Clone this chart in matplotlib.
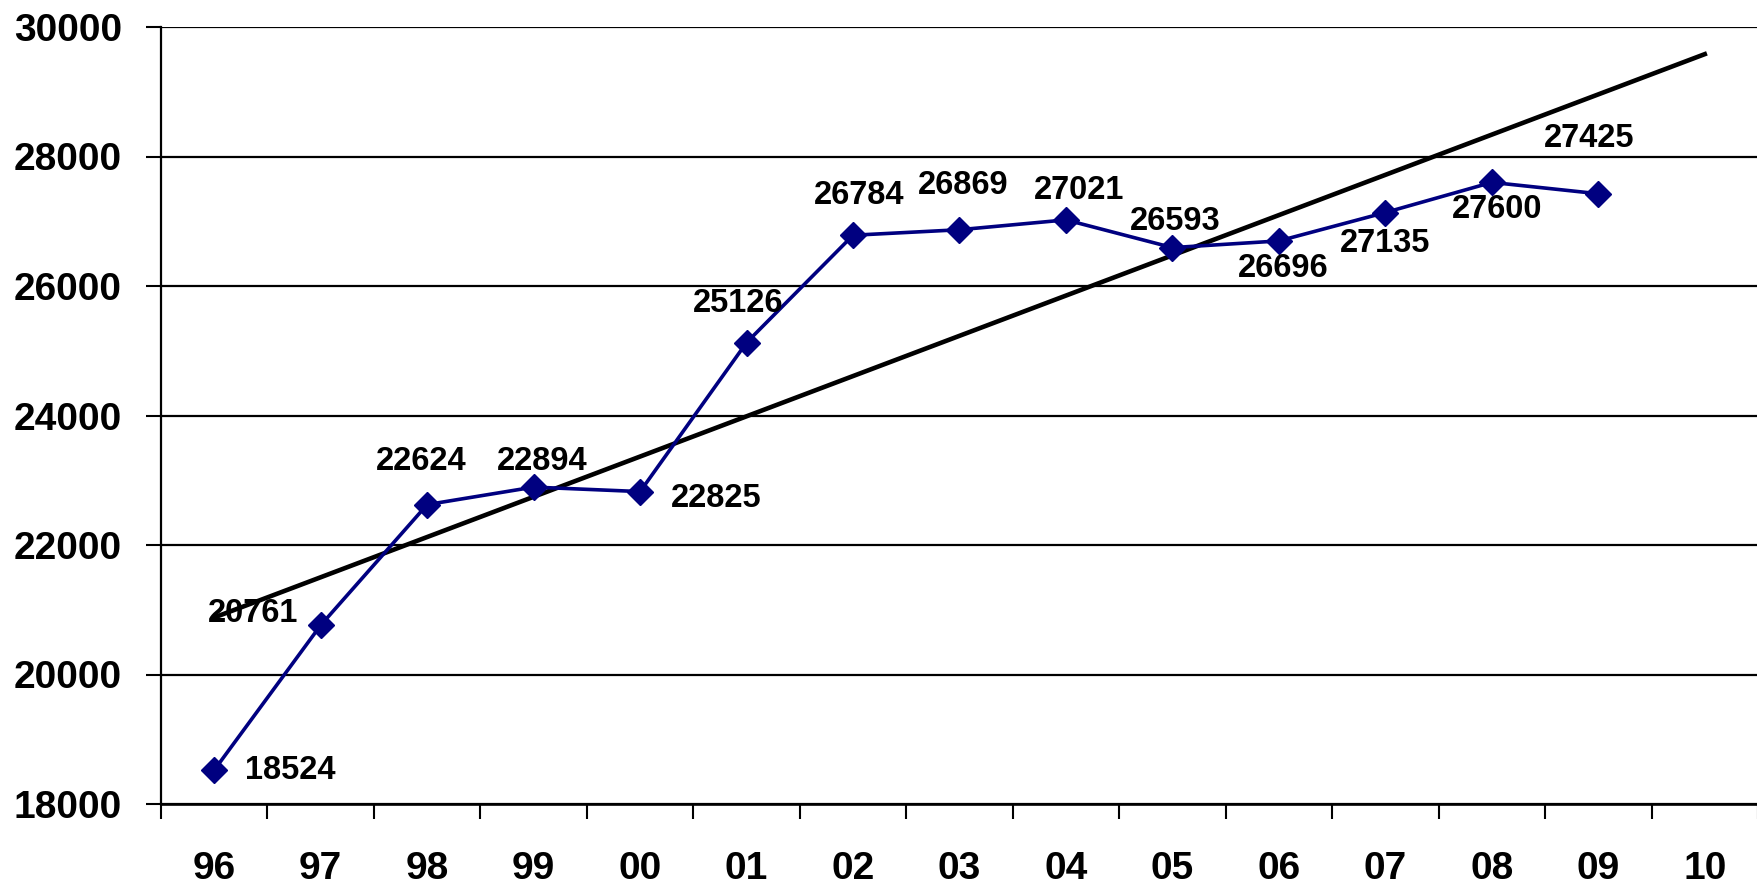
import numpy as np
import matplotlib.pyplot as plt
from matplotlib.ticker import FixedLocator

# Données
annees = ["96", "97", "98", "99", "00", "01", "02", "03", "04", "05", "06", "07", "08", "09", "10"]
valeurs = [18524, 20761, 22624, 22894, 22825, 25126, 26784, 26869, 27021,
           26593, 26696, 27135, 27600, 27425]
y_ticks = [18000, 20000, 22000, 24000, 26000, 28000, 30000]

# Décalage des étiquettes (pixels)
decalages = [(76, 0), (-68, 12), (-6, 43), (9, 26), (76, -7), (-8, 39), (6, 40),
             (4, 44), (13, 29), (3, 26), (4, -28), (0, -31), (5, -27), (-9, 55)]

plt.rcParams["font.family"] = ["Liberation Sans", "DejaVu Sans"]
plt.rcParams["font.weight"] = "bold"

fig = plt.figure(figsize=(17.58, 8.91), dpi=100)
ax = fig.add_axes([161 / 1758, 1 - 804 / 891, 1 - 161 / 1758, (804 - 27) / 891])

x = np.arange(len(valeurs))

# Courbe de tendance linéaire prolongée d'une période
pente, origine = np.polyfit(x, valeurs, 1)
x_tend = np.array([0, len(annees) - 1])
ax.plot(x_tend, pente * x_tend + origine, color="black", lw=3.3, zorder=3)

ax.plot(x, valeurs, color="#000080", lw=2.6, marker="D", markersize=13.5,
        markeredgewidth=1, zorder=4)

for xi, v, (dx, dy) in zip(x, valeurs, decalages):
    ax.annotate(str(v), (xi, v), xytext=(dx, dy), textcoords="offset pixels",
                ha="center", va="center", fontsize=23.5, fontweight="bold", zorder=5)

ax.set_xlim(-0.5, len(annees) - 0.5)
ax.set_ylim(18000, 30000)
ax.set_yticks(y_ticks)
ax.set_yticklabels([str(t) for t in y_ticks], fontsize=28, fontweight="bold")
ax.grid(axis="y", color="black", lw=1.6)
ax.set_axisbelow(True)

ax.set_xticks(np.arange(len(annees)))
ax.set_xticklabels(annees, fontsize=28, fontweight="bold")
ax.xaxis.set_minor_locator(FixedLocator(np.arange(-0.5, len(annees), 1)))
ax.tick_params(axis="x", which="major", length=0, pad=34)
ax.tick_params(axis="x", which="minor", length=10.5, width=1.5, direction="out")
ax.tick_params(axis="y", length=11, width=1.5, direction="out", pad=17)

for s in ["top", "right"]:
    ax.spines[s].set_visible(False)
ax.spines["left"].set_linewidth(1.6)
ax.spines["bottom"].set_linewidth(1.9)

fig.savefig("out.png", dpi=100)
